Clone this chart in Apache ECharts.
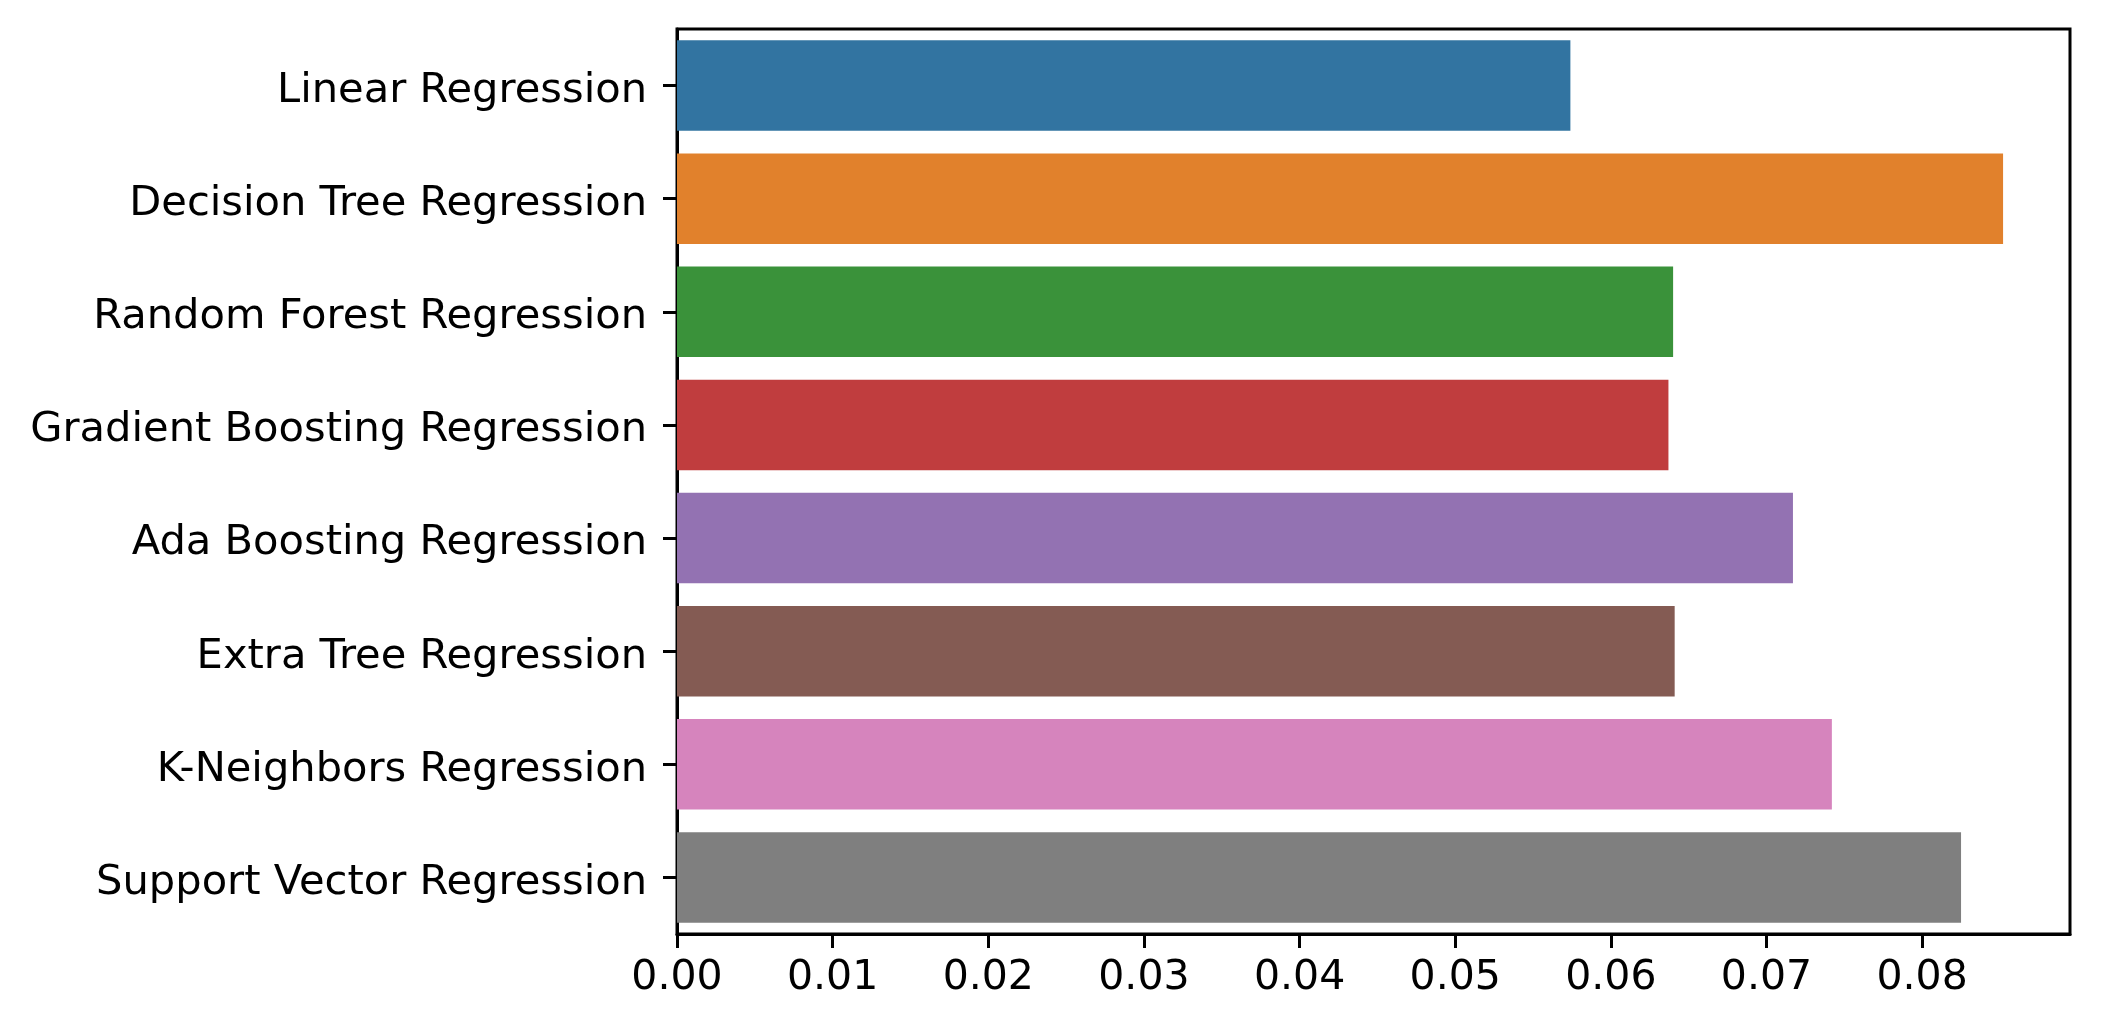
<!DOCTYPE html>
<html lang="en">

<head>
    <meta charset="UTF-8">
    <title>Regression models</title>
    <style>
        html, body { margin: 0; padding: 0; background: #ffffff; }
    </style>
</head>

<body>
    <div id="main" style="width: 2102px; height: 1035px;"></div>

    <script src="https://cdn.jsdelivr.net/npm/echarts@6/dist/echarts.min.js"></script>
    <script>
        // model names, top to bottom
        var models = [
            "Linear Regression",
            "Decision Tree Regression",
            "Random Forest Regression",
            "Gradient Boosting Regression",
            "Ada Boosting Regression",
            "Extra Tree Regression",
            "K-Neighbors Regression",
            "Support Vector Regression"
        ];
        // error values
        var scores = [0.0574, 0.0852, 0.0640, 0.0637, 0.0717, 0.0641, 0.0742, 0.0825];
        // x axis ticks
        var xTicks = [0, 0.01, 0.02, 0.03, 0.04, 0.05, 0.06, 0.07, 0.08];

        // seaborn default palette (desaturated)
        var palette = ["#3274a1", "#e1812c", "#3a923a", "#c03d3e", "#9372b2", "#845b53", "#d684bd", "#7f7f7f"];

        window.onload = function () {
            var myChart = echarts.init(document.getElementById('main'));
            var font = "DejaVu Sans";

            var option = {
                backgroundColor: "#ffffff",
                color: palette,
                textStyle: { fontFamily: font },
                grid: {
                    left: 677,
                    right: 32,
                    top: 29,
                    bottom: 101,
                    show: true,
                    borderColor: "#000",
                    borderWidth: 3,
                    backgroundColor: "transparent"
                },
                xAxis: {
                    type: "value",
                    min: xTicks[0],
                    max: 0.0895,
                    interval: xTicks[1] - xTicks[0],
                    splitLine: { show: false },
                    axisLine: { show: true, lineStyle: { color: "#000", width: 3 } },
                    axisTick: { show: true, length: 14, lineStyle: { color: "#000", width: 3 } },
                    axisLabel: {
                        showMaxLabel: false,
                        margin: 24,
                        color: "#000",
                        fontSize: 41,
                        fontFamily: font,
                        formatter: function (v) { return v.toFixed(2); }
                    }
                },
                yAxis: {
                    type: "category",
                    inverse: true,
                    data: models,
                    axisLine: { show: true, lineStyle: { color: "#000", width: 3 } },
                    axisTick: { show: true, alignWithLabel: true, length: 14, lineStyle: { color: "#000", width: 3 } },
                    axisLabel: {
                        margin: 30,
                        formatter: function (v) { return "{m|" + v + "}"; },
                        rich: {
                            m: {
                                padding: [11, 0, 0, 0],
                                color: "#000",
                                fontSize: 41.6,
                                fontFamily: font
                            }
                        }
                    }
                },
                series: [
                    {
                        type: "bar",
                        colorBy: "data",
                        data: scores,
                        barWidth: "80%",
                        itemStyle: { borderWidth: 0 }
                    }
                ]
            };
            myChart.setOption(option);
        }
    </script>
</body>

</html>
